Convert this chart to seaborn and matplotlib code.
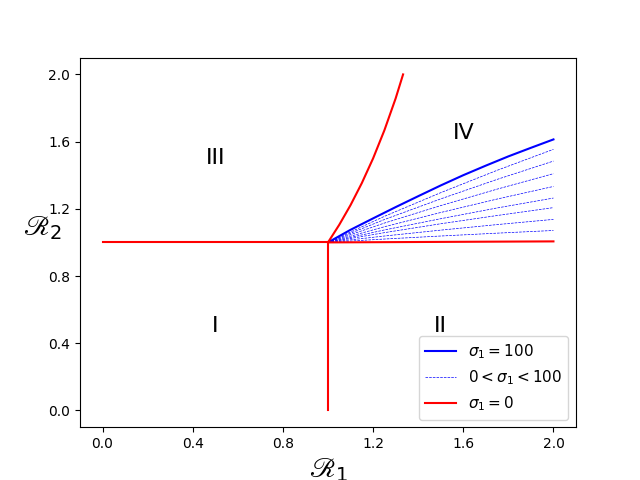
import matplotlib
matplotlib.use("Agg")
import matplotlib.pyplot as plt
import seaborn as sns
import pandas as pd

# Data
solid_x = [1.0, 1.1, 1.2, 1.3, 1.4, 1.5, 1.6, 1.7, 1.8, 1.9, 2.0]
solid_y = [1.0, 1.075, 1.143, 1.210, 1.275, 1.339, 1.400, 1.457, 1.512, 1.563, 1.613]

dash_x = [1.0, 1.25, 1.5, 1.75, 2.0]
dash_ys = [
    [1.0, 1.155, 1.296, 1.429, 1.554],
    [1.0, 1.136, 1.259, 1.375, 1.484],
    [1.0, 1.115, 1.219, 1.317, 1.409],
    [1.0, 1.093, 1.178, 1.258, 1.333],
    [1.0, 1.074, 1.141, 1.205, 1.264],
    [1.0, 1.058, 1.111, 1.160, 1.207],
    [1.0, 1.038, 1.073, 1.106, 1.137],
    [1.0, 1.020, 1.038, 1.055, 1.071],
]

red_up_x = [1.0, 1.05, 1.1, 1.15, 1.2, 1.25, 1.3, 1.333]
red_up_y = [1.0, 1.105, 1.222, 1.353, 1.5, 1.667, 1.857, 2.0]
red_low_x = [1.0, 1.5, 2.0]
red_low_y = [1.0, 1.003, 1.006]
red_h_x = [0.0, 1.0]
red_h_y = [1.0, 1.0]
red_v_x = [1.0, 1.0]
red_v_y = [0.0, 1.0]

regions = ["I", "II", "III", "IV"]
region_x = [0.5, 1.5, 0.5, 1.6]
region_y = [0.5, 0.5, 1.5, 1.65]

ticks = [0.0, 0.4, 0.8, 1.2, 1.6, 2.0]
tick_labels = ["0.0", "0.4", "0.8", "1.2", "1.6", "2.0"]

fig, ax = plt.subplots(figsize=(6.4, 4.8), dpi=100)

def line(x, y, **kw):
    df = pd.DataFrame({"x": x, "y": y})
    sns.lineplot(data=df, x="x", y="y", sort=False, estimator=None, ax=ax, **kw)

line(solid_x, solid_y, color="blue", linewidth=1.5, label=r"$\sigma_1 = 100$")
for i, dy in enumerate(dash_ys):
    line(dash_x, dy, color="blue", linewidth=0.5, linestyle="--",
         label=r"$0 < \sigma_1 < 100$" if i == 0 else None)
line(red_up_x, red_up_y, color="red", linewidth=1.5, label=r"$\sigma_1 = 0$")
line(red_low_x, red_low_y, color="red", linewidth=1.5)
line(red_h_x, red_h_y, color="red", linewidth=1.5)
line(red_v_x, red_v_y, color="red", linewidth=1.5)

for t, xx, yy in zip(regions, region_x, region_y):
    ax.text(xx, yy, t, fontsize=16, ha="center", va="center")

ax.set_xticks(ticks)
ax.set_xticklabels(tick_labels)
ax.set_yticks(ticks)
ax.set_yticklabels(tick_labels)
ax.set_xlabel(r"$\mathscr{R}_1$", fontsize=20)
ax.set_ylabel(r"$\mathscr{R}_2$", fontsize=20, rotation=0)
ax.legend(loc="lower right", fontsize=11)

fig.savefig("out.png", dpi=100)
